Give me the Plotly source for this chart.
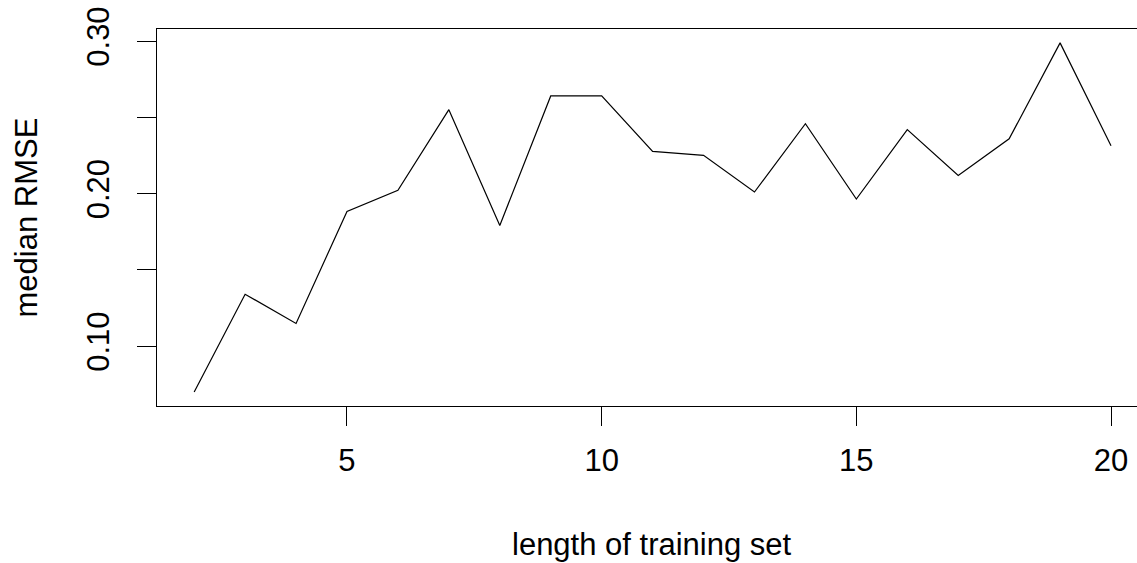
import plotly.graph_objects as go

train_len = [2, 3, 4, 5, 6, 7, 8, 9, 10, 11, 12, 13, 14, 15, 16, 17, 18, 19, 20]
median_rmse = [0.070, 0.1341, 0.1149, 0.1884, 0.2022, 0.2551, 0.1792, 0.2641, 0.2641,
               0.2278, 0.2252, 0.2011, 0.2459, 0.1965, 0.2420, 0.2120, 0.2360, 0.2989, 0.2315]
x_ticks = [5, 10, 15, 20]
y_ticks = [0.10, 0.15, 0.20, 0.25, 0.30]
y_ticktext = ["0.10", "", "0.20", "", "0.30"]

FONT = "Liberation Sans, Arial, sans-serif"
FS = 31

fig = go.Figure()
fig.add_trace(go.Scatter(x=train_len, y=median_rmse, mode="lines",
                         line=dict(color="black", width=1.2), showlegend=False))

fig.update_layout(
    width=1137, height=563,
    margin=dict(l=157, r=0, t=29, b=157),
    paper_bgcolor="white", plot_bgcolor="white",
    font=dict(family=FONT, size=FS, color="black"),
    xaxis=dict(range=[1.27, 20.51], tickvals=x_ticks, ticktext=[str(v) for v in x_ticks],
               showgrid=False, zeroline=False, showline=True, mirror=True,
               linecolor="black", linewidth=1.2, ticks="outside", ticklen=19,
               tickwidth=1.2, tickcolor="black", ticklabelstandoff=8,
               tickfont=dict(family=FONT, size=FS, color="black")),
    yaxis=dict(range=[0.0608, 0.3080], tickvals=y_ticks, ticktext=y_ticktext,
               showgrid=False, zeroline=False, showline=True, mirror=False,
               linecolor="black", linewidth=1.2, ticks="outside", ticklen=19,
               tickwidth=1.2, tickcolor="black", tickangle=-90, ticklabelstandoff=16,
               tickfont=dict(family=FONT, size=FS, color="black")),
    annotations=[
        dict(text="length of training set", xref="paper", yref="paper",
             x=0.505, y=-0.368, xanchor="center", yanchor="middle", showarrow=False,
             font=dict(family=FONT, size=FS, color="black")),
        dict(text="median RMSE", xref="paper", yref="paper",
             x=-0.1327, y=0.5, xanchor="center", yanchor="middle", showarrow=False,
             textangle=-90, font=dict(family=FONT, size=FS, color="black")),
    ],
)

fig.write_html("out.html")
